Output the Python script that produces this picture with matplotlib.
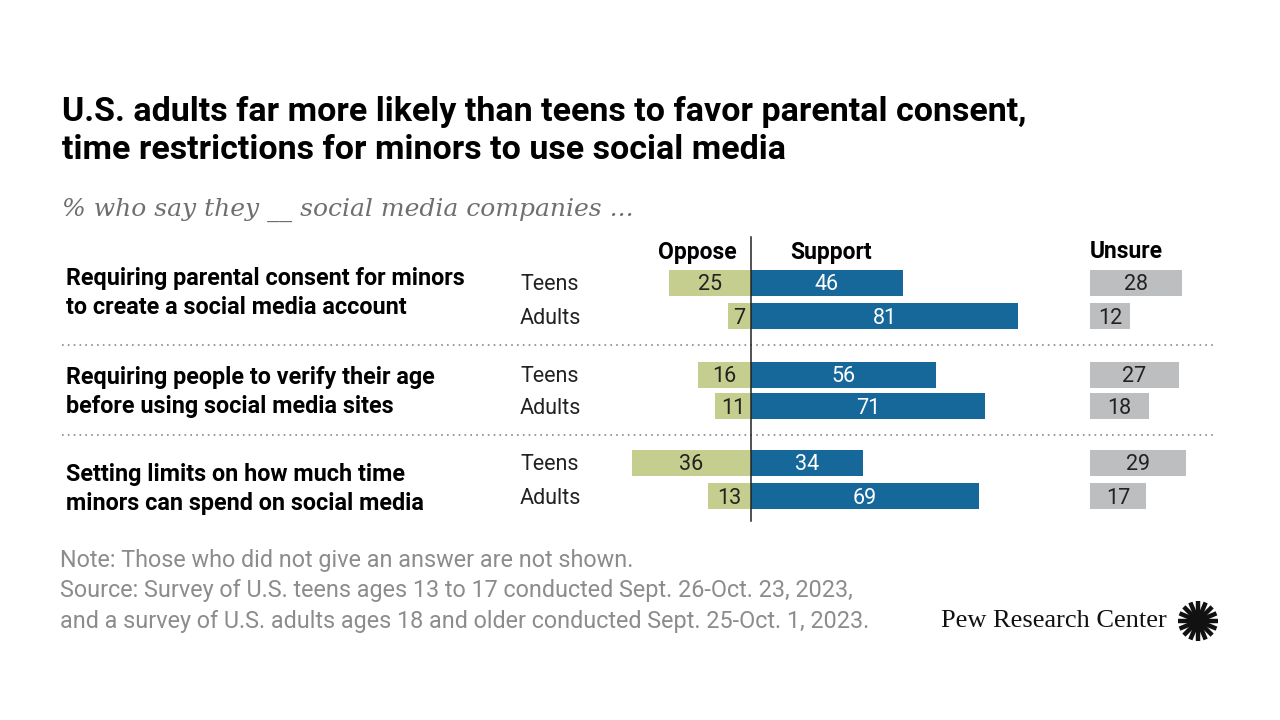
import matplotlib.pyplot as plt
import numpy as np

items = ["Requiring parental consent for minors\nto create a social media account",
         "Requiring people to verify their age\nbefore using social media sites",
         "Setting limits on how much time\nminors can spend on social media"]
groups = ["Teens", "Adults"]
oppose = [25, 7, 16, 11, 36, 13]
support = [46, 81, 56, 71, 34, 69]
unsure = [28, 12, 27, 18, 29, 17]

c_opp = "#c5ce8f"
c_sup = "#16679a"
c_uns = "#bdbec0"
font = "Roboto"

fig = plt.figure(figsize=(12.8, 7.2), dpi=100)
ov = fig.add_axes([0, 0, 1, 1])
ov.set_xlim(0, 1280)
ov.set_ylim(720, 0)
ov.axis("off")

# bar axes: x in percent, zero at 751px, 3.3 px per point
ppu = 3.3
x0 = 751
ax = fig.add_axes([620 / 1280, (720 - 530) / 720, 610 / 1280, 300 / 720])
ax.set_xlim((620 - x0) / ppu, (1230 - x0) / ppu)
ax.set_ylim(530, 230)
ax.axis("off")

ypos = [283, 316, 375, 406, 463, 496]
uns_left = (1090 - x0) / ppu
h = 26
ax.barh(ypos, [-v for v in oppose], height=h, color=c_opp)
ax.barh(ypos, support, height=h, color=c_sup)
ax.barh(ypos, unsure, left=uns_left, height=h, color=c_uns)
for y, o, s, u in zip(ypos, oppose, support, unsure):
    ax.text(-o / 2, y + 2, str(o), ha="center", va="center", fontsize=15.5, color="#222222", family=font)
    ax.text(s / 2, y + 2, str(s), ha="center", va="center", fontsize=15.5, color="white", family=font)
    ax.text(uns_left + u / 2, y + 2, str(u), ha="center", va="center", fontsize=15.5, color="#222222", family=font)
ax.plot([0, 0], [237, 521], color="#222222", lw=1.1)

# headers
ov.text(737, 252, "Oppose", ha="right", va="center", fontsize=16.5, weight="bold", family=font)
ov.text(790, 252, "Support", ha="left", va="center", fontsize=16.5, weight="bold", family=font)
ov.text(1090, 252, "Unsure", ha="left", va="center", fontsize=16.5, weight="bold", family=font)

# row and item labels
label_y = [293, 392, 489]
for i, item in enumerate(items):
    ov.text(66, label_y[i], item, ha="left", va="center",
            fontsize=16.8, weight="bold", family=font, linespacing=1.3)
    for j, g in enumerate(groups):
        ov.text(550, ypos[2 * i + j] + 2, g, ha="center", va="center", fontsize=15.5, family=font, color="#222222")

for y in [345, 435]:
    ov.plot([62, 1215], [y, y], color="#888888", lw=1.2, ls=(0, (1, 2.5)))

# title and subtitle
ov.text(62, 131, "U.S. adults far more likely than teens to favor parental consent,\n"
        "time restrictions for minors to use social media",
        ha="left", va="center", fontsize=24.5, weight="bold", family=font, linespacing=1.27)
ov.text(62, 210, "% who say they __ social media companies ...", ha="left", va="center",
        fontsize=18, style="italic", color="#6f6f6f", family="DejaVu Serif")

# notes
ov.text(60, 591, "Note: Those who did not give an answer are not shown.\n"
        "Source: Survey of U.S. teens ages 13 to 17 conducted Sept. 26-Oct. 23, 2023,\n"
        "and a survey of U.S. adults ages 18 and older conducted Sept. 25-Oct. 1, 2023.",
        ha="left", va="center", fontsize=16.8, color="#8c8c8c", family=font, linespacing=1.4)

# logo
ov.text(1167, 621, "Pew Research Center", ha="right", va="center", fontsize=19,
        family="Liberation Serif", color="#111111")
cx, cy = 1198, 621
for a in np.linspace(0, 2 * np.pi, 16, endpoint=False):
    ov.plot([cx + 5 * np.cos(a), cx + 20 * np.cos(a)], [cy + 5 * np.sin(a), cy + 20 * np.sin(a)],
            color="#111111", lw=3.2, solid_capstyle="butt")
ov.add_patch(plt.Circle((cx, cy), 5, color="#111111"))

fig.savefig("out.png", dpi=100)
